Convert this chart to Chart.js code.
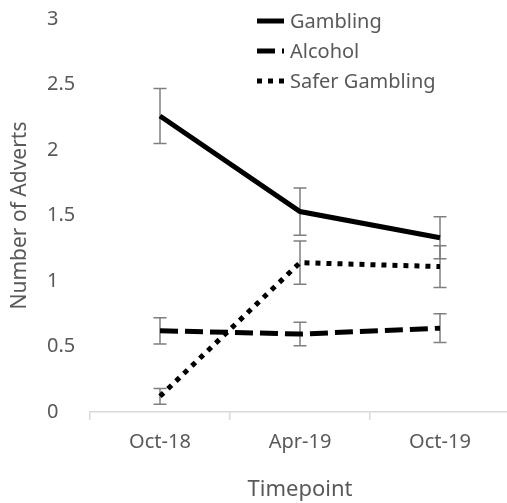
<!DOCTYPE html>
<html>
<head>
<meta charset="utf-8">
<script src="https://cdn.jsdelivr.net/npm/chart.js@4/dist/chart.umd.min.js"></script>
<style>
  html, body { margin: 0; padding: 0; background: #fff; overflow: hidden; }
  #wrap { width: 512px; height: 503px; position: relative; }
</style>
</head>
<body>
<div id="wrap"><canvas id="c"></canvas></div>
<script>
  'use strict';

  // data
  var labels = ['Oct-18', 'Apr-19', 'Oct-19'];
  var gambling = [2.26, 1.53, 1.33];
  var gamblingErr = [0.21, 0.18, 0.16];
  var alcohol = [0.62, 0.595, 0.64];
  var alcoholErr = [0.10, 0.09, 0.11];
  var safer = [0.12, 1.14, 1.11];
  var saferErr = [0.06, 0.165, 0.16];
  var yTicks = [0, 0.5, 1, 1.5, 2, 2.5, 3];

  var TEXT = '#595959';
  var FONT = '"Noto Sans", sans-serif';

  function lineSet(name, values, errs, dash) {
    return {
      label: name,
      data: values,
      errors: errs,
      borderColor: '#000',
      backgroundColor: '#000',
      borderWidth: 5,
      borderDash: dash,
      borderCapStyle: 'butt',
      pointRadius: 0,
      tension: 0,
      fill: false
    };
  }

  // error bars, drawn under the lines
  var errorBars = {
    id: 'errorBars',
    beforeDatasetsDraw: function(chart) {
      var ctx = chart.ctx;
      var x = chart.scales.x, y = chart.scales.y;
      ctx.save();
      ctx.strokeStyle = '#7f7f7f';
      ctx.lineWidth = 1.5;
      chart.data.datasets.forEach(function(ds) {
        ds.data.forEach(function(v, i) {
          var px = x.getPixelForValue(i);
          var top = y.getPixelForValue(v + ds.errors[i]);
          var bot = y.getPixelForValue(v - ds.errors[i]);
          ctx.beginPath();
          ctx.moveTo(px, top); ctx.lineTo(px, bot);
          ctx.moveTo(px - 6.5, top); ctx.lineTo(px + 6.5, top);
          ctx.moveTo(px - 6.5, bot); ctx.lineTo(px + 6.5, bot);
          ctx.stroke();
        });
      });
      ctx.restore();
    }
  };

  // stacked legend inside the plot
  var lineLegend = {
    id: 'lineLegend',
    afterDraw: function(chart) {
      var ctx = chart.ctx;
      ctx.save();
      ctx.font = '20px ' + FONT;
      ctx.textBaseline = 'middle';
      chart.data.datasets.forEach(function(ds, i) {
        var yy = 21 + i * 30;
        ctx.strokeStyle = ds.borderColor;
        ctx.lineWidth = ds.borderWidth;
        ctx.lineCap = 'butt';
        ctx.setLineDash(ds.borderDash || []);
        ctx.beginPath();
        ctx.moveTo(257, yy); ctx.lineTo(284, yy);
        ctx.stroke();
        ctx.setLineDash([]);
        ctx.fillStyle = TEXT;
        ctx.fillText(ds.label, 290, yy + 1);
      });
      ctx.restore();
    }
  };

  new Chart(document.getElementById('c'), {
    type: 'line',
    data: {
      labels: labels,
      datasets: [
        lineSet('Gambling', gambling, gamblingErr, []),
        lineSet('Alcohol', alcohol, alcoholErr, [18, 7]),
        lineSet('Safer Gambling', safer, saferErr, [5, 6])
      ]
    },
    options: {
      responsive: true,
      maintainAspectRatio: false,
      animation: false,
      layout: { padding: { top: 19, right: 2, left: 47, bottom: 0 } },
      plugins: { legend: { display: false }, tooltip: { enabled: false } },
      scales: {
        x: {
          offset: true,
          grid: { display: true, offset: true, drawOnChartArea: false, drawTicks: true, tickLength: 8, color: '#d9d9d9', lineWidth: 1.5 },
          border: { display: true, color: '#d9d9d9', width: 1.5 },
          ticks: { color: TEXT, font: { family: FONT, size: 20 }, padding: 10, maxRotation: 0 },
          title: { display: true, text: 'Timepoint', color: TEXT, font: { family: FONT, size: 22 }, padding: { top: 4, bottom: 0 } },
          afterFit: function(s) { s.height = 91; s.paddingLeft = 0; s.paddingRight = 0; }
        },
        y: {
          min: 0,
          max: 3,
          afterBuildTicks: function(s) { s.ticks = yTicks.map(function(v) { return { value: v }; }); },
          grid: { display: false },
          border: { display: false },
          ticks: {
            color: TEXT, font: { family: FONT, size: 20 }, crossAlign: 'far', padding: 14,
            callback: function(v) { return String(v); }
          },
          title: { display: true, text: 'Number of Adverts', color: TEXT, font: { family: FONT, size: 21 }, padding: { top: -40, bottom: 0 } },
          afterFit: function(s) { s.width = 43; s.paddingTop = 0; s.paddingBottom = 0; }
        }
      }
    },
    plugins: [errorBars, lineLegend]
  });
</script>
</body>
</html>
